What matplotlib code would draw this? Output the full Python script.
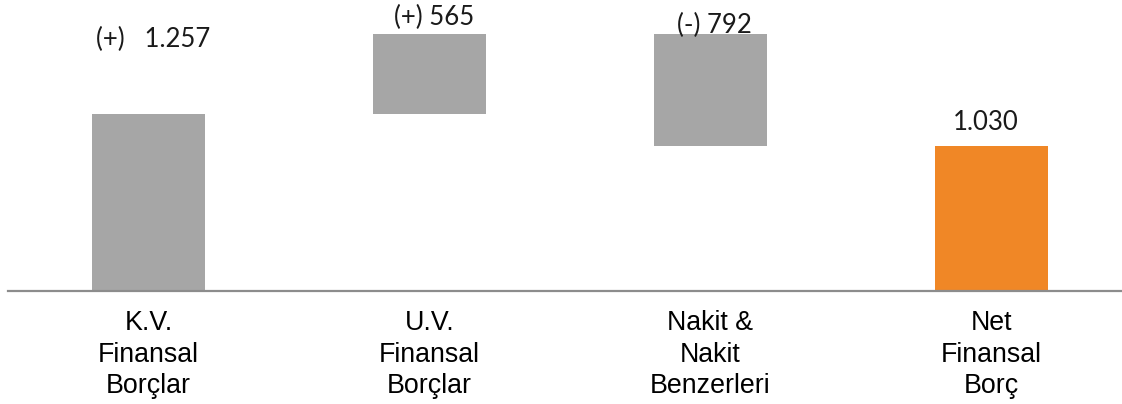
import matplotlib.pyplot as plt
import numpy as np

# waterfall: net financial debt
categories = ["K.V.\nFinansal\nBorçlar", "U.V.\nFinansal\nBorçlar",
              "Nakit &\nNakit\nBenzerleri", "Net\nFinansal\nBorç"]
changes = [1257, 565, -792, 1030]
value_labels = ["(+)   1.257", "(+) 565", "(-) 792", "1.030"]

gray = "#A6A6A6"
orange = "#F08726"

# bar extents
bottoms = [0, changes[0], changes[0] + changes[1] + changes[2], 0]
heights = [changes[0], changes[1], -changes[2], changes[3]]
colors = [gray, gray, gray, orange]

fig = plt.figure(figsize=(11.22, 4.04), dpi=100)
ax = fig.add_axes([8 / 1122, 113 / 404, 1124 / 1122, 291 / 404])

x = np.arange(len(categories))
ax.bar(x, heights, bottom=bottoms, width=0.40, color=colors)

ax.set_xlim(-0.5, 3.5)
ax.set_ylim(0, 2067)

# label offsets (points) relative to bar tops
tops = [b + h for b, h in zip(bottoms, heights)]
offsets = [(3, 45), (3, 3), (3, -2.5), (-4, 8)]
for i, lab in enumerate(value_labels):
    ax.annotate(lab, xy=(x[i], tops[i]), xytext=offsets[i],
                textcoords="offset points", ha="center", va="bottom",
                fontsize=18.5, family="Lato", color="#1a1a1a")

ax.set_xticks(x)
ax.set_xticklabels(categories, fontsize=19.3, family="Liberation Sans",
                   linespacing=1.27)
ax.tick_params(axis="x", length=0, pad=14)
ax.set_yticks([])
for s in ["top", "right", "left"]:
    ax.spines[s].set_visible(False)
ax.spines["bottom"].set_color("#8C8C8C")
ax.spines["bottom"].set_linewidth(1.6)

fig.savefig("out.png", dpi=100)
